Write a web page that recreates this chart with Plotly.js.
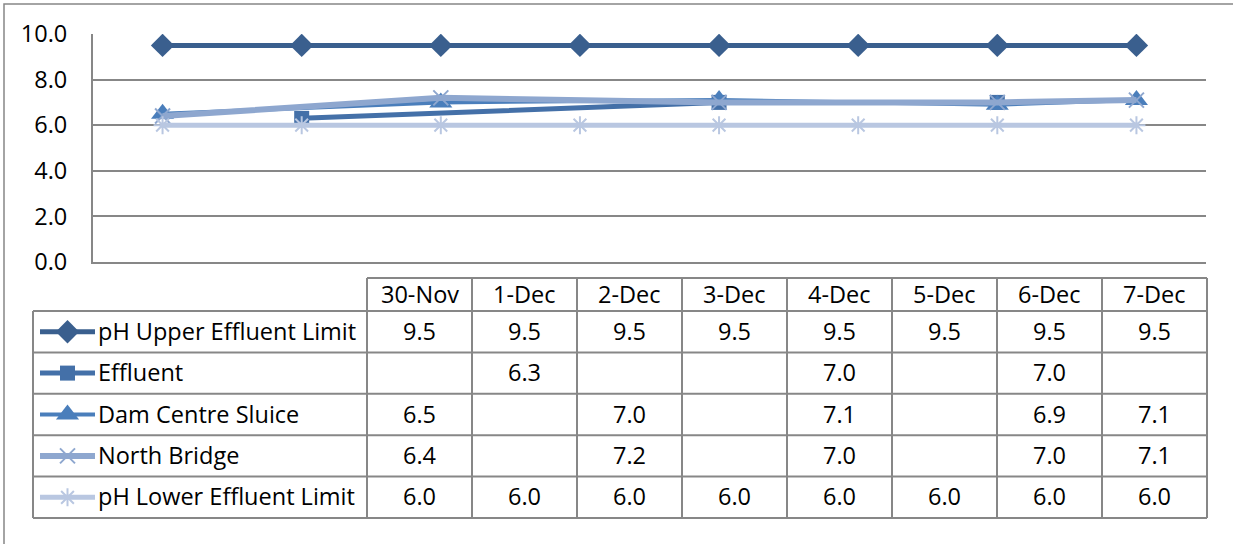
<!DOCTYPE html>
<html>
<head>
<meta charset="utf-8">
<script src="https://cdn.plot.ly/plotly-3.0.1.min.js"></script>
<style>
  html, body { margin: 0; padding: 0; background: #ffffff; }
  #chart { width: 1233px; height: 544px; }
</style>
</head>
<body>
<div id="chart"></div>
<script>
// Daily pH readings, 30 Nov - 7 Dec
const categories = ['30-Nov', '1-Dec', '2-Dec', '3-Dec', '4-Dec', '5-Dec', '6-Dec', '7-Dec'];
const seriesNames = ['pH Upper Effluent Limit', 'Effluent', 'Dam Centre Sluice', 'North Bridge', 'pH Lower Effluent Limit'];
const upperLimit = [9.5, 9.5, 9.5, 9.5, 9.5, 9.5, 9.5, 9.5];
const effluent = [null, 6.3, null, null, 7.0, null, 7.0, null];
const damCentreSluice = [6.5, null, 7.0, null, 7.1, null, 6.9, 7.1];
const northBridge = [6.4, null, 7.2, null, 7.0, null, 7.0, 7.1];
const lowerLimit = [6.0, 6.0, 6.0, 6.0, 6.0, 6.0, 6.0, 6.0];
const yTicks = [0, 2, 4, 6, 8, 10];

const W = 1233, H = 544;
const FONT = '"Open Sans", Lato, sans-serif';
const FSIZE = 23.5;
const GRID = '#878787';

// visual style of each series
const styles = [
  { color: '#3a5f8e', width: 5, symbol: 'diamond', size: 18, mline: 0 },
  { color: '#4470a8', width: 5, symbol: 'square', size: 15, mline: 0 },
  { color: '#4a7ebb', width: 4, symbol: 'triangle-up', size: 20, mline: 0 },
  { color: '#8ea7cf', width: 6, symbol: 'x-thin-open', size: 15, mline: 2 },
  { color: '#b9c7e1', width: 5, symbol: 'asterisk-open', size: 15, mline: 2 }
];
const values = [upperLimit, effluent, damCentreSluice, northBridge, lowerLimit];

// pixel -> paper helpers
const px = x => x / W;
const py = y => 1 - y / H;

// plot area
const plotL = 93, plotR = 1206, plotT = 34, plotB = 262;

// data table geometry
const tabL = 33, keyR = 367, colW = 105, headT = 278, headB = 311, rowH = 41.4;
const tabR = keyR + colW * categories.length;
const tabB = headB + rowH * seriesNames.length;

const traces = [];
values.forEach((vals, i) => {
  const s = styles[i];
  traces.push({
    type: 'scatter', mode: 'lines+markers', name: seriesNames[i],
    x: categories, y: vals, connectgaps: true,
    xaxis: 'x', yaxis: 'y',
    line: { color: s.color, width: s.width },
    marker: {
      symbol: s.symbol, size: s.size, color: s.color,
      line: { color: s.color, width: s.mline }
    },
    hoverinfo: 'x+y+name'
  });
});

// legend keys drawn in the first column of the data table (pixel overlay axes)
values.forEach((vals, i) => {
  const s = styles[i];
  const cy = headB + rowH * (i + 0.5);
  const x0 = 40, x1 = 95, xm = (x0 + x1) / 2;
  traces.push({
    type: 'scatter', mode: 'lines', x: [x0, x1], y: [cy, cy],
    xaxis: 'x2', yaxis: 'y2', showlegend: false, hoverinfo: 'skip',
    line: { color: s.color, width: s.width }
  });
  traces.push({
    type: 'scatter', mode: 'markers', x: [xm], y: [cy],
    xaxis: 'x2', yaxis: 'y2', showlegend: false, hoverinfo: 'skip',
    marker: { symbol: s.symbol, size: s.size, color: s.color, line: { color: s.color, width: s.mline } }
  });
});

const shapes = [];
const line = (x0, y0, x1, y1) => shapes.push({
  type: 'line', xref: 'paper', yref: 'paper',
  x0: px(x0), y0: py(y0), x1: px(x1), y1: py(y1),
  line: { color: GRID, width: 2 }
});

// outer chart border (runs off the right and bottom edges)
shapes.push({
  type: 'rect', xref: 'paper', yref: 'paper',
  x0: px(4), y0: py(4), x1: px(1260), y1: py(600),
  line: { color: GRID, width: 1.5 }
});

// table grid
line(keyR, headT, tabR, headT);
for (let r = 0; r <= seriesNames.length; r++) {
  const y = headB + rowH * r;
  line(tabL, y, tabR, y);
}
line(tabL, headB, tabL, tabB);
for (let c = 0; c <= categories.length; c++) {
  const x = keyR + colW * c;
  line(x, headT, x, tabB);
}

const annotations = [];
const txt = (x, y, text, anchor) => annotations.push({
  xref: 'paper', yref: 'paper', x: px(x), y: py(y),
  text: text, showarrow: false, xanchor: anchor, yanchor: 'middle',
  font: { family: FONT, size: FSIZE, color: '#000000' }
});

categories.forEach((c, j) => txt(keyR + colW * (j + 0.5), (headT + headB) / 2 - 1, c, 'center'));
seriesNames.forEach((n, i) => {
  const cy = headB + rowH * (i + 0.5) - 1;
  txt(96, cy, n, 'left');
  values[i].forEach((v, j) => {
    if (v !== null) txt(keyR + colW * (j + 0.5), cy, v.toFixed(1), 'center');
  });
});

const layout = {
  width: W, height: H,
  margin: { l: 0, r: 0, t: 0, b: 0 },
  paper_bgcolor: '#ffffff', plot_bgcolor: 'rgba(0,0,0,0)',
  showlegend: false,
  font: { family: FONT, size: FSIZE, color: '#000000' },
  xaxis: {
    type: 'category', domain: [px(plotL), px(plotR)], range: [-0.5, categories.length - 0.5],
    showticklabels: false, ticks: '', showgrid: false, zeroline: false,
    showline: true, linecolor: GRID, linewidth: 2, anchor: 'y', fixedrange: true
  },
  yaxis: {
    domain: [py(plotB), py(plotT)], range: [0, 10],
    tickvals: yTicks, ticktext: yTicks.map(v => v.toFixed(1)),
    ticks: '', ticklabelstandoff: 19,
    showgrid: true, gridcolor: GRID, gridwidth: 2, zeroline: false,
    showline: true, linecolor: GRID, linewidth: 2, anchor: 'x',
    tickfont: { family: FONT, size: FSIZE, color: '#000000' }, fixedrange: true
  },
  xaxis2: { domain: [0, 1], range: [0, W], visible: false, anchor: 'y2', fixedrange: true },
  yaxis2: { domain: [0, 1], range: [H, 0], visible: false, anchor: 'x2', fixedrange: true },
  shapes: shapes,
  annotations: annotations
};

Plotly.newPlot('chart', traces, layout, { displayModeBar: false, staticPlot: true });
</script>
</body>
</html>
